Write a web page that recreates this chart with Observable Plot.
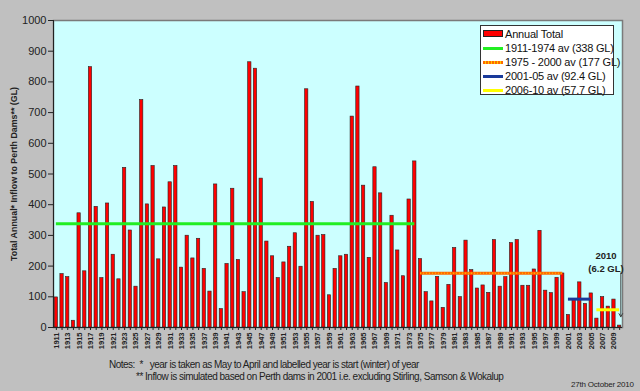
<!DOCTYPE html>
<html><head><meta charset="utf-8">
<script src="https://cdn.jsdelivr.net/npm/d3@7"></script>
<script src="https://cdn.jsdelivr.net/npm/@observablehq/plot@0.6"></script>
<style>
body{margin:0;background:#c0c0c0;font-family:"Liberation Sans",Arial,sans-serif;}
#wrap{position:relative;width:640px;height:391px;overflow:hidden;background:#c0c0c0}
#wrap svg{position:absolute;left:0;top:0;background:transparent}
.note{position:absolute;font-size:10px;color:#222;white-space:pre;letter-spacing:-0.5px}
#legend{position:absolute;left:480px;top:25px;width:134px;height:70px;background:#fff;border:1px solid #333;box-sizing:border-box}
.li{position:absolute;left:2px;height:14px;font-size:11px;line-height:14px;color:#111;white-space:pre;letter-spacing:-0.2px}
.sw{position:absolute;left:0;width:20px}
.lt{position:absolute;left:22px;top:0}
</style></head><body><div id="wrap"></div>
<script>
const years = d3.range(1911, 2011);
const inflow = [
 98,174,164,22,372,183,848,393,161,404,
 237,157,520,316,133,741,401,526,222,391,
 473,526,195,299,225,289,191,117,466,60,
 207,452,220,115,864,843,485,280,232,161,
 212,263,307,198,776,409,299,301,105,191,
 232,237,687,785,462,227,522,437,145,364,
 251,167,417,541,223,115,85,165,64,139,
 259,99,283,187,127,137,113,285,133,164,
 275,285,136,136,189,315,120,112,162,176,
 41,90,147,77,111,29,99,68,91,6.2];

const avgLabels = ["1911-1974 av (338 GL)","1975 - 2000 av (177 GL)","2001-05 av (92.4 GL)","2006-10 av (57.7 GL)"];
const avgStart = [1911,1975,2001,2006];
const avgEnd = [1974,2000,2005,2010];
const avgValue = [338,177,92.4,57.7];
const avgColor = ["#22ee22","#ff6a00","#1a3a9a","#ffff00"];

const yTicks = d3.range(0,1001,100);
const yTitle = "Total Annual* Inflow to Perth Dams** (GL)";
const noteLines = ["Notes:  *   year is taken as May to April and labelled year is start (winter) of year",
 "** Inflow is simulated based on Perth dams in 2001 i.e. excluding Stirling, Samson & Wokalup"];
const dateText = "27th October 2010";
const annot = ["2010","(6.2 GL)"];

const bars = years.map((y,i)=>({year:y, v:inflow[i]}));
const avgs = avgLabels.map((l,i)=>({label:l,s:avgStart[i],e:avgEnd[i],v:avgValue[i],c:avgColor[i]}));

const chart = Plot.plot({
  width:640, height:391,
  marginLeft:53, marginRight:18, marginTop:20, marginBottom:64,
  style:{fontFamily:"'Liberation Sans',Arial,sans-serif", background:"transparent", overflow:"visible"},
  x:{type:"linear", domain:[1910.5,2010.5]},
  y:{domain:[0,1000]},
  marks:[
    Plot.frame({fill:"#ccffff", stroke:"#7a7a7a", strokeWidth:1.5}),
    Plot.rectY(bars,{x1:d=>d.year-0.29, x2:d=>d.year+0.29, y:"v", fill:"#ff0000", stroke:"#222", strokeWidth:0.6}),
    Plot.ruleY(avgs,{x1:"s", x2:"e", y:"v", stroke:"c", strokeWidth:3}),
    Plot.ruleY(avgs.filter((d,i)=>i===1),{x1:"s", x2:"e", y:"v", stroke:"#ffcc00", strokeWidth:1, strokeDasharray:"1,2"}),
    Plot.ruleX([1910.5],{stroke:"#222", strokeWidth:1}),
    Plot.ruleY([0],{stroke:"#222", strokeWidth:1}),
    Plot.axisY({ticks:yTicks, tickSize:5, fontSize:11, tickPadding:2, tickFormat:d=>String(d), label:null, color:"#222"}),
    Plot.axisX({ticks:years, tickSize:3, tickRotate:-90, fontSize:7.5, fontWeight:"bold", tickPadding:2,
      tickFormat:d=> d%2 ? String(d) : "", label:null, color:"#222"}),
    Plot.text([yTitle],{frameAnchor:"left", dx:-39, rotate:-90, textAnchor:"middle", fontSize:8.5, fontWeight:"bold", fill:"#222"}),
    Plot.text([annot[0]],{x:[2007.6], y:[232], fontSize:9.5, fontWeight:"bold", fill:"#222"}),
    Plot.text([annot[1]],{x:[2007.6], y:[192], fontSize:9.5, fontWeight:"bold", fill:"#222"}),
    Plot.arrow([0],{x1:[2010.2], x2:[2010.2], y1:[178], y2:[35], stroke:"#333", strokeWidth:0.9, headLength:6})
  ]
});
const wrap = document.getElementById("wrap");
wrap.appendChild(chart);
d3.select(chart).selectAll("text").filter(function(){return this.textContent===yTitle;})
  .attr("textLength",174).attr("lengthAdjust","spacingAndGlyphs");

const n1 = document.createElement("div"); n1.className="note"; n1.style.left="109px"; n1.style.top="359px"; n1.textContent=noteLines[0]; wrap.appendChild(n1);
const n2 = document.createElement("div"); n2.className="note"; n2.style.left="136px"; n2.style.top="371px"; n2.textContent=noteLines[1]; wrap.appendChild(n2);
const n3 = document.createElement("div"); n3.className="note"; n3.style.left="571px"; n3.style.top="380px"; n3.style.fontSize="8px"; n3.style.letterSpacing="-0.2px"; n3.textContent=dateText; wrap.appendChild(n3);

const lg = document.createElement("div"); lg.id="legend"; wrap.appendChild(lg);
const legItems = [{label:"Annual Total", type:"bar"}].concat(avgs.map(d=>({label:d.label,type:"line",c:d.c})));
legItems.forEach((d,i)=>{
  const row = document.createElement("div"); row.className="li"; row.style.top=(1+i*14)+"px";
  const sw = document.createElement("div"); sw.className="sw";
  if(d.type==="bar"){ sw.style.top="3px"; sw.style.height="7px"; sw.style.background="#ff0000"; sw.style.border="1px solid #222"; sw.style.boxSizing="border-box"; }
  else { sw.style.top="6px"; sw.style.height="3px"; sw.style.background=d.c; if(i===2){sw.style.backgroundImage="repeating-linear-gradient(90deg,#ff6a00 0 2px,#ffcc00 2px 3px)";} }
  const t = document.createElement("span"); t.className="lt"; t.textContent=d.label;
  row.appendChild(sw); row.appendChild(t); lg.appendChild(row);
});
</script></body></html>
